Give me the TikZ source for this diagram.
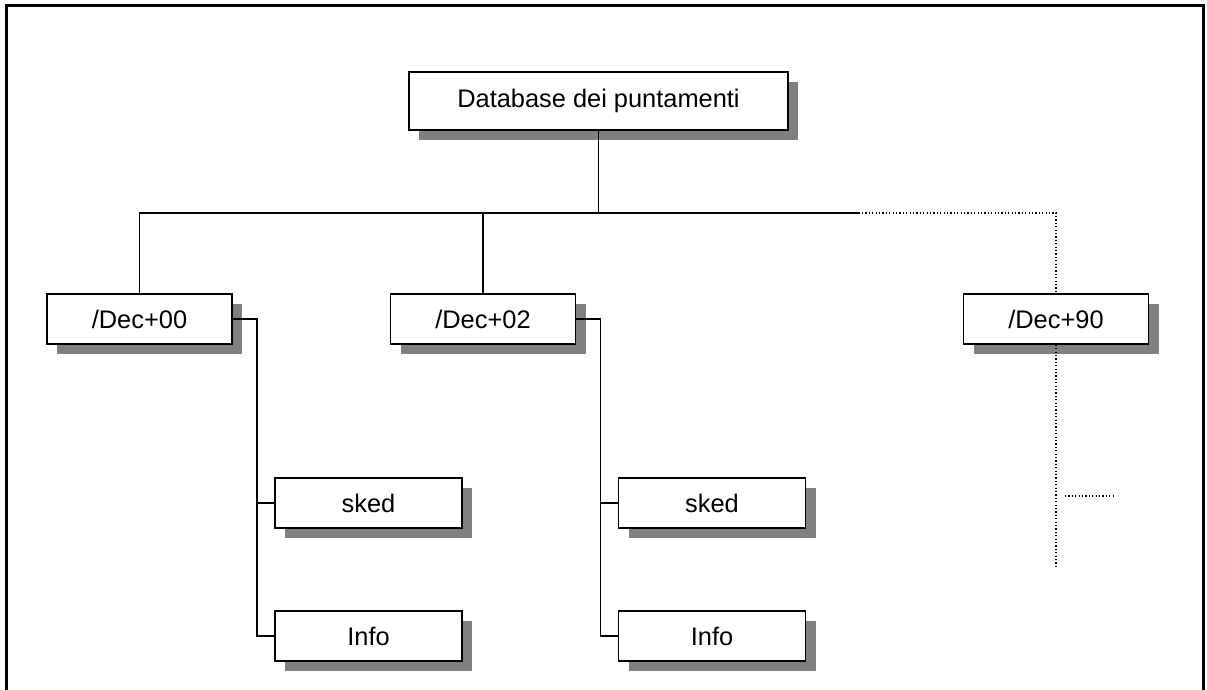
\documentclass[tikz,border=0pt]{standalone}
\usepackage{fontspec}
\setmainfont{Liberation Sans}
\usetikzlibrary{shadows}
\tikzstyle{block} = [ rectangle, draw, line width=0.9pt, fill=white, inner sep=0pt, minimum width=92.5pt, minimum height=25pt, font=\fontsize{12.7}{15}\selectfont, drop shadow={shadow xshift=5pt, shadow yshift=-5pt, fill=black!50, opacity=1}]
\tikzstyle{rootblock} = [ block, minimum width=189.5pt, minimum height=29pt]
\tikzstyle{leaf} = [ block, minimum width=93.5pt]
\tikzstyle{line} = [ draw, line width=0.75pt]
\tikzstyle{dotline} = [ draw, line width=0.75pt, dash pattern=on 0.6pt off 1.1pt]

\begin{document}
\begin{tikzpicture}[node distance=3cm]
  \useasboundingbox (0,0) rectangle (603.5pt,-345pt);
  \draw [line width=1.5pt] (3pt,-345pt) -- (3pt,-3pt) -- (601.75pt,-3pt) -- (601.75pt,-345pt);

  \node [rootblock] (root) at (299.25pt,-50.5pt) {Database dei puntamenti};
  \coordinate [below of=root, node distance=56pt] (hub);

  \node [block, below of=root, node distance=109pt, xshift=-229.5pt] (dec00) {/Dec+00};
  \node [block, right of=dec00, node distance=171.75pt] (dec02) {/Dec+02};
  \node [block, right of=dec02, node distance=286.5pt] (dec90) {/Dec+90};

  \node [leaf, below of=dec00, node distance=92pt, xshift=114.5pt] (sked00) {sked};
  \node [leaf, below of=sked00, node distance=66.5pt] (info00) {Info};
  \node [leaf, below of=dec02, node distance=92pt, xshift=114.5pt] (sked02) {sked};
  \node [leaf, below of=sked02, node distance=66.5pt] (info02) {Info};

  \coordinate [right of=hub, node distance=130pt] (cut);
  \coordinate [below of=dec90, node distance=124pt] (tail);
  \coordinate [right of=dec90, node distance=4.5pt, yshift=-88.5pt] (more);
  \coordinate [right of=more, node distance=24pt] (moreend);

  \path [line] (root) -- (hub);
  \path [line] (hub) -| (dec00);
  \path [line] (hub) -| (dec02);
  \path [line] (hub) -- (cut);
  \path [dotline] (cut) -| (dec90);
  \path [dotline] (dec90) -- (tail);
  \path [dotline] (more) -- (moreend);

  \path [line] (dec00.east) -- +(12pt,0) |- (sked00.west);
  \path [line] (dec00.east) -- +(12pt,0) |- (info00.west);
  \path [line] (dec02.east) -- +(12pt,0) |- (sked02.west);
  \path [line] (dec02.east) -- +(12pt,0) |- (info02.west);
\end{tikzpicture}
\end{document}
